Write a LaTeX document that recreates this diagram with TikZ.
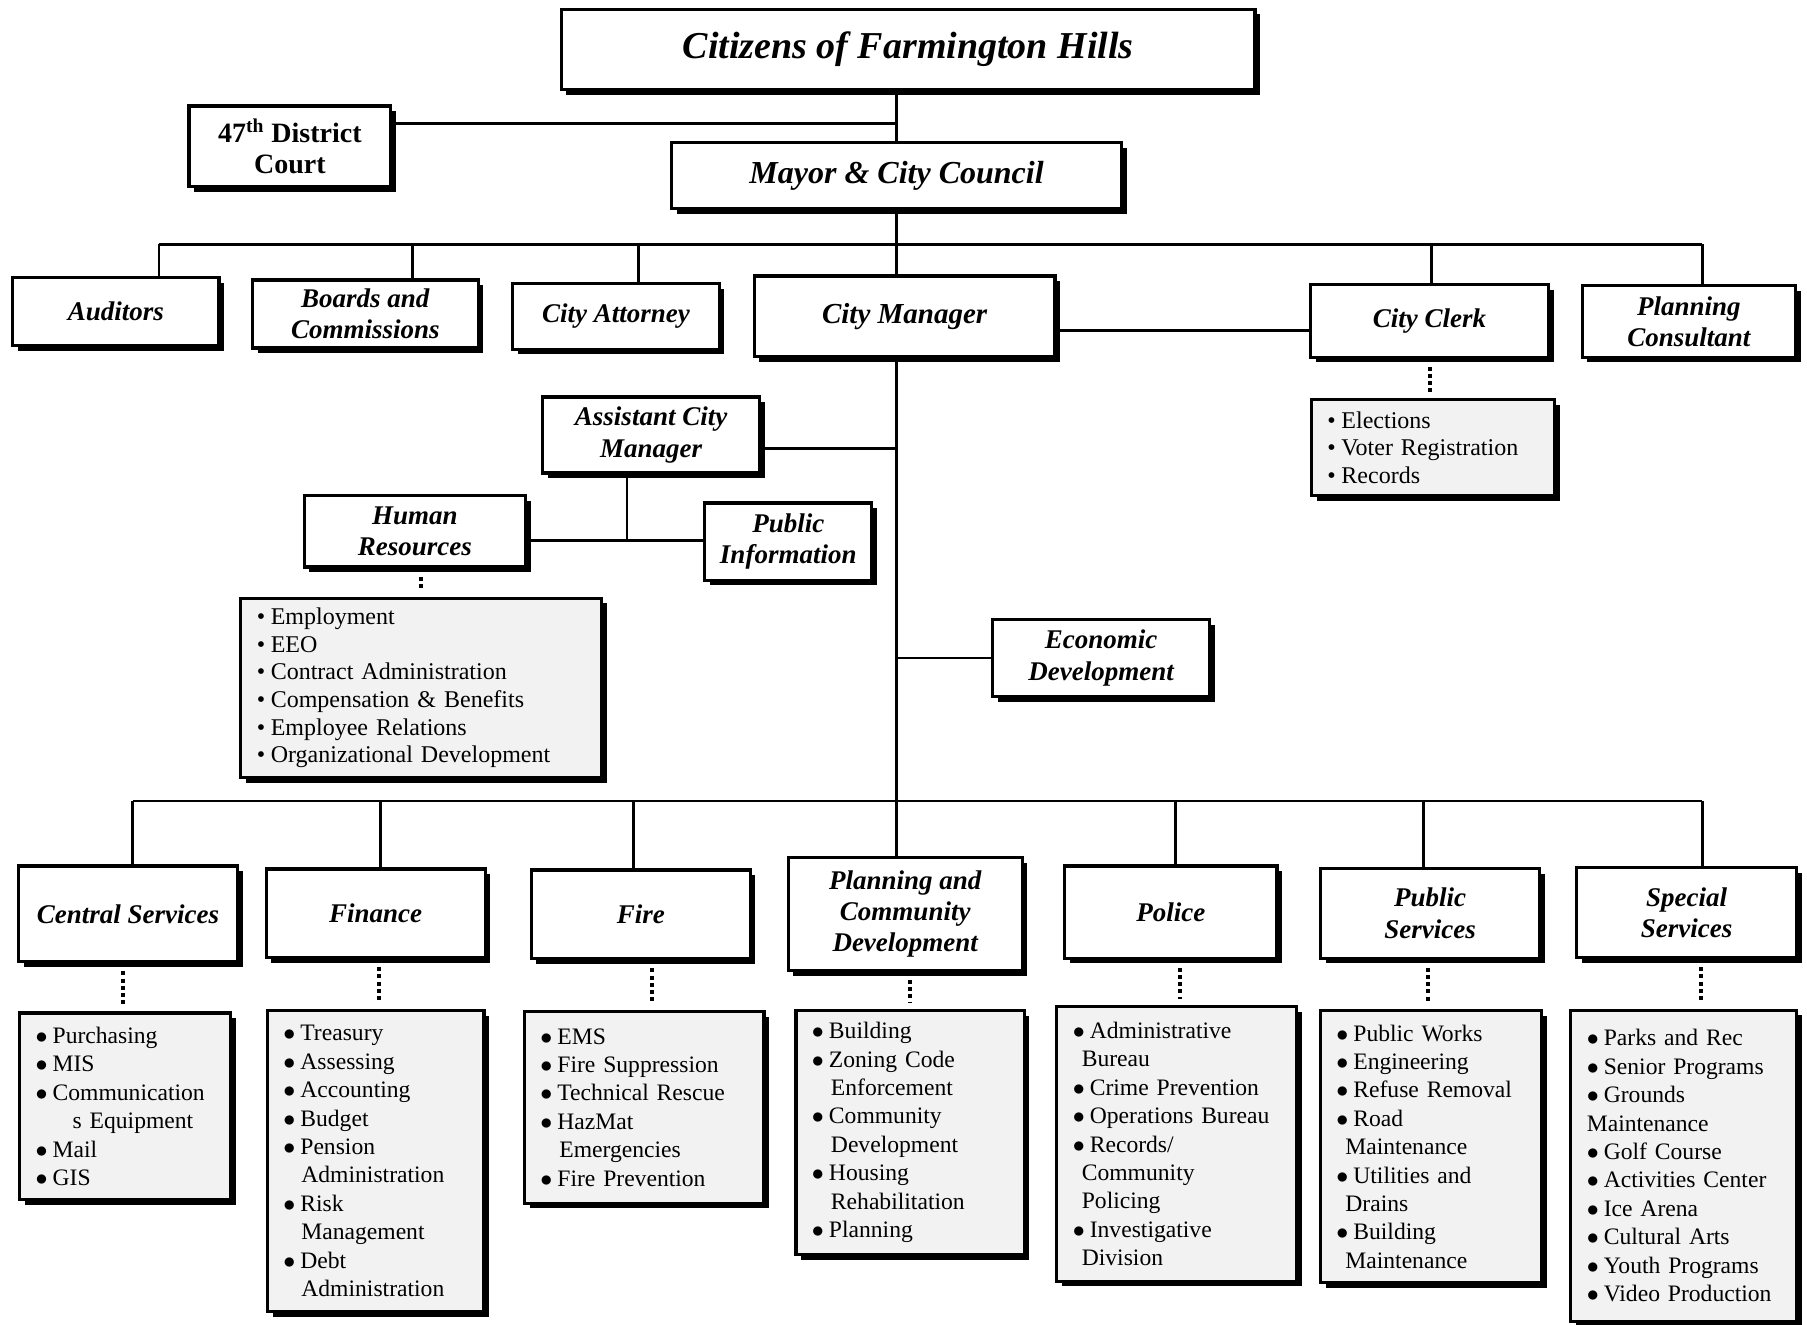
\documentclass[tikz,border=0pt]{standalone}
\usepackage{fontspec}
\setmainfont{Liberation Serif}
\usetikzlibrary{shadows}
\newcommand{\pu}{0.5762pt}
\newcommand{\titem}[1]{\mbox{\makebox[7pt][l]{\textbullet}#1}}
\newcommand{\bitem}[1]{\mbox{\makebox[8.5pt][l]{$\bullet$}#1}}
\newcommand{\bcont}[2]{\mbox{\hspace*{#1}#2}}
\tikzset{
  boxshadow/.style={drop shadow={shadow xshift=2.6pt, shadow yshift=-2.6pt, fill=black, opacity=1}},
  office/.style={draw, line width=1.6pt, fill=white, boxshadow, align=center, inner sep=2pt,
    font=\fontsize{13.5}{15.6}\selectfont\bfseries\itshape},
  duties/.style={draw, line width=1.6pt, fill=gray!10, boxshadow, align=left, inner xsep=8pt, inner ysep=3pt,
    font=\fontsize{11.8}{14.2}\selectfont},
  link/.style={line width=1.4pt},
  dotlink/.style={line width=2pt, dash pattern=on 2pt off 1.6pt, shorten <=4pt, shorten >=3pt},
}
\begin{document}
\begin{tikzpicture}[x=\pu, y=-\pu]
\useasboundingbox (0,0) rectangle (1568,1149);

\node[office, font=\fontsize{19}{22}\selectfont\bfseries\itshape, minimum width=602*\pu, minimum height=70*\pu] (citizens) at (788,43) {Citizens of Farmington Hills};
\node[office, font=\fontsize{14}{15.6}\selectfont\bfseries, minimum width=175*\pu, minimum height=70*\pu] (court) at (251.5,127) {47\textsuperscript{th} District\\Court};
\node[office, font=\fontsize{16}{18}\selectfont\bfseries\itshape, minimum width=390*\pu, minimum height=57*\pu] (council) at (778,152.5) {Mayor \& City Council};

\node[office, minimum width=179*\pu, minimum height=59*\pu] (auditors) at (100.5,270.5) {Auditors};
\node[office, minimum width=196*\pu, minimum height=59*\pu] (boards) at (317,272.5) {Boards and\\Commissions};
\node[office, minimum width=179*\pu, minimum height=57*\pu] (attorney) at (534.5,274.5) {City Attorney};
\node[office, font=\fontsize{14.5}{16}\selectfont\bfseries\itshape, minimum width=261*\pu, minimum height=70*\pu] (manager) at (785,274.5) {City Manager};
\node[office, minimum width=207*\pu, minimum height=63*\pu] (clerk) at (1240.5,278.5) {City Clerk};
\node[office, minimum width=185*\pu, minimum height=62*\pu] (consultant) at (1465.5,279) {Planning\\Consultant};
\node[duties, font=\fontsize{12}{13.8}\selectfont, text width=105.6pt, minimum height=83*\pu] (clerk-list) at (1243.5,388.5)
  {\titem{Elections}\\\titem{Voter Registration}\\\titem{Records}};

\node[office, minimum width=188*\pu, minimum height=66*\pu] (acm) at (565,377.5) {Assistant City\\Manager};
\node[office, minimum width=192*\pu, minimum height=62*\pu] (hr) at (360,461) {Human\\Resources};
\node[office, minimum width=145*\pu, minimum height=67*\pu] (pubinfo) at (684,470) {Public\\Information};
\node[duties, font=\fontsize{12}{13.8}\selectfont, text width=164.4pt, minimum height=156*\pu] (hr-list) at (365.5,597)
  {\titem{Employment}\\\titem{EEO}\\\titem{Contract Administration}\\\titem{Compensation \& Benefits}\\\titem{Employee Relations}\\\titem{Organizational Development}};
\node[office, minimum width=188*\pu, minimum height=67*\pu] (econ) at (955.5,571) {Economic\\Development};

\node[office, minimum width=190*\pu, minimum height=83*\pu] (central) at (111,793) {Central Services};
\node[office, minimum width=190*\pu, minimum height=77*\pu] (finance) at (326,792.5) {Finance};
\node[office, minimum width=190*\pu, minimum height=77*\pu] (fire) at (556,793.5) {Fire};
\node[office, minimum width=203*\pu, minimum height=98*\pu] (pcd) at (785.5,793) {Planning and\\Community\\Development};
\node[office, minimum width=184*\pu, minimum height=80*\pu] (police) at (1016,791.5) {Police};
\node[office, minimum width=190*\pu, minimum height=78*\pu] (pubserv) at (1241,792.5) {Public\\Services};
\node[office, minimum width=191*\pu, minimum height=78*\pu] (special) at (1463.5,792) {Special\\Services};

\node[duties, text width=89.4pt, minimum height=162*\pu] (central-list) at (108.5,960)
  {\bitem{Purchasing}\\\bitem{MIS}\\\bitem{Communication}\\\bcont{18.5pt}{s Equipment}\\\bitem{Mail}\\\bitem{GIS}};
\node[duties, text width=92.3pt, minimum height=261*\pu] (finance-list) at (326,1007.5)
  {\bitem{Treasury}\\\bitem{Assessing}\\\bitem{Accounting}\\\bitem{Budget}\\\bitem{Pension}\\\bcont{9pt}{Administration}\\\bitem{Risk}\\\bcont{9pt}{Management}\\\bitem{Debt}\\\bcont{9pt}{Administration}};
\node[duties, text width=103.8pt, minimum height=166*\pu] (fire-list) at (559,961)
  {\bitem{EMS}\\\bitem{Fire Suppression}\\\bitem{Technical Rescue}\\\bitem{HazMat}\\\bcont{9.5pt}{Emergencies}\\\bitem{Fire Prevention}};
\node[duties, text width=98.1pt, minimum height=212*\pu] (pcd-list) at (789.7,982.7)
  {\bitem{Building}\\\bitem{Zoning Code}\\\bcont{9.5pt}{Enforcement}\\\bitem{Community}\\\bcont{9.5pt}{Development}\\\bitem{Housing}\\\bcont{9.5pt}{Rehabilitation}\\\bitem{Planning}};
\node[duties, text width=103.8pt, minimum height=238*\pu] (police-list) at (1021,992.7)
  {\bitem{Administrative}\\\bcont{4.5pt}{Bureau}\\\bitem{Crime Prevention}\\\bitem{Operations Bureau}\\\bitem{Records/}\\\bcont{4.5pt}{Community}\\\bcont{4.5pt}{Policing}\\\bitem{Investigative}\\\bcont{4.5pt}{Division}};
\node[duties, text width=94.6pt, minimum height=236*\pu] (pubserv-list) at (1241.7,995)
  {\bitem{Public Works}\\\bitem{Engineering}\\\bitem{Refuse Removal}\\\bitem{Road}\\\bcont{4.5pt}{Maintenance}\\\bitem{Utilities and}\\\bcont{4.5pt}{Drains}\\\bitem{Building}\\\bcont{4.5pt}{Maintenance}};
\node[duties, text width=96.9pt, minimum height=270*\pu] (special-list) at (1461,1011.5)
  {\bitem{Parks and Rec}\\\bitem{Senior Programs}\\\bitem{Grounds}\\\bcont{0pt}{Maintenance}\\\bitem{Golf Course}\\\bitem{Activities Center}\\\bitem{Ice Arena}\\\bitem{Cultural Arts}\\\bitem{Youth Programs}\\\bitem{Video Production}};

\coordinate (j1) at (778,107);
\coordinate (j2) at (1000,287);
\coordinate (j3) at (778,695);
\coordinate (j4) at (544,469);
\coordinate (j5) at (778,389);
\coordinate (tl) at (138,212);
\coordinate (tr) at (1477,212);
\coordinate (bl) at (115,695);
\coordinate (br) at (1477,695);

\draw[link] (council.north) -- (council.north |- citizens.south);
\draw[link] (j1) -- (j1 -| court.east);
\draw[link] (council.south) -- (council.south |- manager.north);
\draw[link] (tl) -- (tr);
\foreach \x/\n in {138/auditors, 358/boards, 554/attorney, 1242/clerk, 1477/consultant}{
  \coordinate (d) at (\x,212);
  \draw[link] (d) -- (d |- \n.north);
}
\draw[link] (j2 -| manager.east) -- (j2 -| clerk.west);
\draw[link] (manager.south -| j3) -- (j3);
\draw[link] (j5) -- (j5 -| acm.east);
\draw[link] (econ.west) -- (econ.west -| j3);
\draw[link] (j4) -- (j4 |- acm.south);
\draw[link] (j4 -| hr.east) -- (j4 -| pubinfo.west);
\draw[link] (bl) -- (br);
\foreach \x/\n in {115/central, 330/finance, 550/fire, 778/pcd, 1020/police, 1235/pubserv, 1477/special}{
  \coordinate (d) at (\x,695);
  \draw[link] (d) -- (d |- \n.north);
}
\foreach \x/\n in {365/hr, 1241/clerk, 107/central, 329/finance, 566/fire, 790/pcd, 1024/police, 1239/pubserv, 1476/special}{
  \coordinate (d) at (\x,0);
  \draw[dotlink] (d |- \n.south) -- (d |- \n-list.north);
}
\end{tikzpicture}
\end{document}
